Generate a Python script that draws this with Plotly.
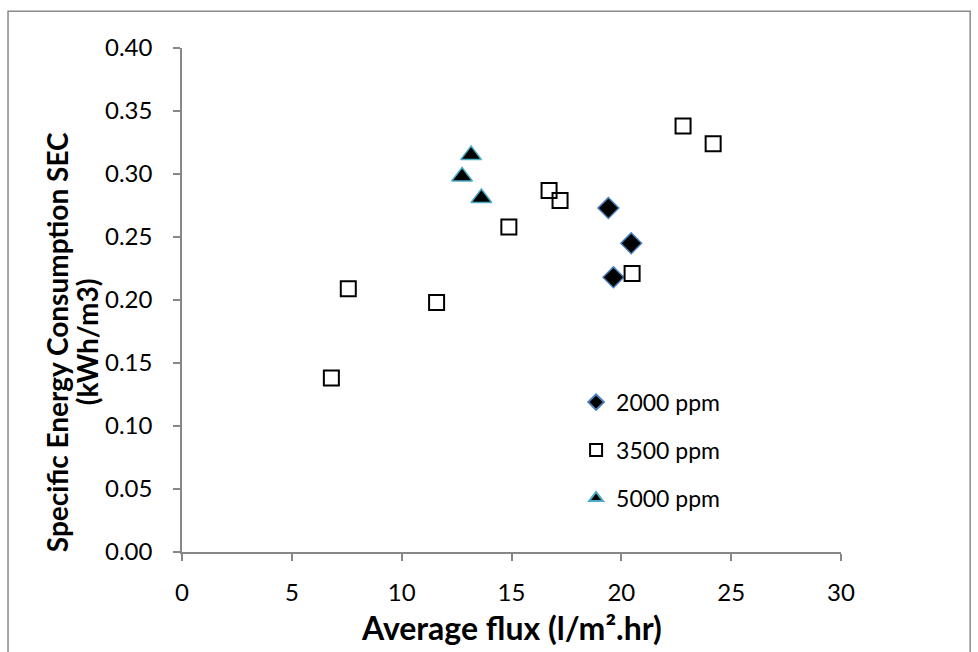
import plotly.graph_objects as go

# Data
x_2000 = [19.41, 20.45, 19.64]
y_2000 = [0.273, 0.245, 0.218]

x_3500 = [6.80, 7.57, 11.59, 14.88, 16.71, 17.21, 20.49, 22.81, 24.18]
y_3500 = [0.138, 0.209, 0.198, 0.258, 0.287, 0.279, 0.221, 0.338, 0.324]

x_5000 = [13.16, 12.75, 13.63]
y_5000 = [0.315, 0.298, 0.281]

series_names = ["2000 ppm", "3500 ppm", "5000 ppm"]
x_ticks = [0, 5, 10, 15, 20, 25, 30]
y_ticks = [0.00, 0.05, 0.10, 0.15, 0.20, 0.25, 0.30, 0.35, 0.40]

x_title = "<b>Average flux (l/m².hr)</b>"
y_title_lines = ["<b>Specific Energy Consumption SEC</b>", "<b>(kWh/m3)</b>"]

FONT = "Lato"
AXIS_GREY = "#878787"

fig = go.Figure()
fig.add_trace(go.Scatter(
    x=x_2000, y=y_2000, mode="markers", name=series_names[0], legendgroup="a",
    marker=dict(symbol="diamond", size=16, color="black",
                line=dict(color="#4a7ebb", width=1.5))))
fig.add_trace(go.Scatter(
    x=x_3500, y=y_3500, mode="markers", name=series_names[1], legendgroup="b",
    marker=dict(symbol="square", size=15, color="rgba(0,0,0,0)",
                line=dict(color="black", width=2))))
fig.add_trace(go.Scatter(
    x=x_5000, y=y_5000, mode="markers", name=series_names[2], legendgroup="c",
    marker=dict(symbol="triangle-up", size=18, color="black",
                line=dict(color="#4bacc6", width=1.5))))

fig.update_layout(
    width=978, height=652,
    margin=dict(l=182, r=137, t=48, b=100),
    paper_bgcolor="white", plot_bgcolor="white",
    font=dict(family=FONT, size=24, color="black"),
    showlegend=True,
    legend=dict(x=0.598, y=0.34, xanchor="left", yanchor="top",
                font=dict(family=FONT, size=23, color="black"),
                bgcolor="rgba(0,0,0,0)", tracegroupgap=15,
                traceorder="grouped", itemsizing="constant"),
    xaxis=dict(range=[0, 30], tickvals=x_ticks, showgrid=False, zeroline=False,
               showline=True, linecolor=AXIS_GREY, linewidth=1.5,
               ticks="outside", ticklen=7, tickcolor=AXIS_GREY, tickwidth=1.5,
               ticklabelstandoff=11,
               tickfont=dict(family=FONT, size=24)),
    yaxis=dict(range=[0, 0.4], tickvals=y_ticks, tickformat=".2f",
               showgrid=False, zeroline=False,
               showline=True, linecolor=AXIS_GREY, linewidth=1.5,
               ticks="outside", ticklen=7, tickcolor=AXIS_GREY, tickwidth=1.5,
               ticklabelstandoff=16,
               tickfont=dict(family=FONT, size=24)),
    annotations=[
        dict(text=y_title_lines[0], xref="paper", yref="paper",
             x=(57 - 182) / 659, y=(551.7 - 342) / 503.7, textangle=-90,
             showarrow=False, font=dict(family=FONT, size=28),
             xanchor="center", yanchor="middle"),
        dict(text=y_title_lines[1], xref="paper", yref="paper",
             x=(87 - 182) / 659, y=(551.7 - 342) / 503.7, textangle=-90,
             showarrow=False, font=dict(family=FONT, size=28),
             xanchor="center", yanchor="middle"),
        dict(text=x_title, xref="paper", yref="paper",
             x=0.5, y=(551.7 - 627) / 503.7, showarrow=False,
             font=dict(family=FONT, size=32),
             xanchor="center", yanchor="middle"),
    ],
    shapes=[dict(type="rect", xref="paper", yref="paper",
                 x0=-0.264, x1=1.196, y0=-0.25, y1=1.073,
                 line=dict(color="#8a8a8a", width=1.5))],
)

fig.write_html("out.html")
